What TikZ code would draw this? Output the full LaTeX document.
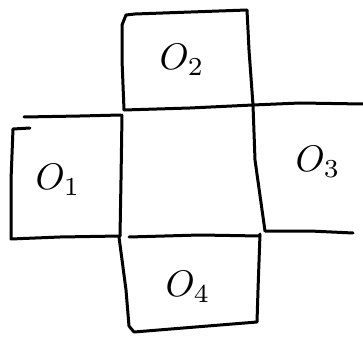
\documentclass[tikz,border=0pt]{standalone}
\begin{document}
\begin{tikzpicture}[x=1pt,y=-1pt,
  pen/.style={line width=3pt,line join=round,line cap=round},
  lab/.style={scale=3.7,inner sep=0pt}]
\useasboundingbox (0,0) rectangle (363,344);
% named corners
\coordinate (t1) at (124,110);
\coordinate (t2) at (247,10);
\coordinate (c1) at (253,105);
\coordinate (c2) at (265,231);
\coordinate (c3) at (120,236);
% top box
\draw[pen] (t1) -- (122,60) -- (122,25) -- (126,15) -- (135,14) -- (t2) -- (249,50) -- (c1);
% center top line and right top line
\draw[pen] (t1) -- (190,108) -- (c1) -- (300,103) -- (363,104);
% left top line
\draw[pen] (24,117) -- (80,116) -- (121,115);
% left box
\draw[pen] (30,128) -- (13,129) -- (11,180) -- (11,239) -- (60,237) -- (c3);
% center left
\draw[pen] (122,115) -- (121,180) -- (c3);
% center right
\draw[pen] (c1) -- (255,160) -- (c2);
% right bottom
\draw[pen] (c2) -- (310,231) -- (353,233);
% bottom box top line
\draw[pen] (129,237) -- (200,235) -- (260,236);
% bottom box
\draw[pen] (119,237) -- (126,290) -- (129,326) -- (134,332) -- (257,322) -- (258,290) -- (260,234);
% labels
\node[lab] (o2) at (182,60) {$O_2$};
\node[lab] (o1) at (58,180) {$O_1$};
\node[lab] (o3) at (318,162) {$O_3$};
\node[lab] (o4) at (188,287) {$O_4$};
\end{tikzpicture}
\end{document}
